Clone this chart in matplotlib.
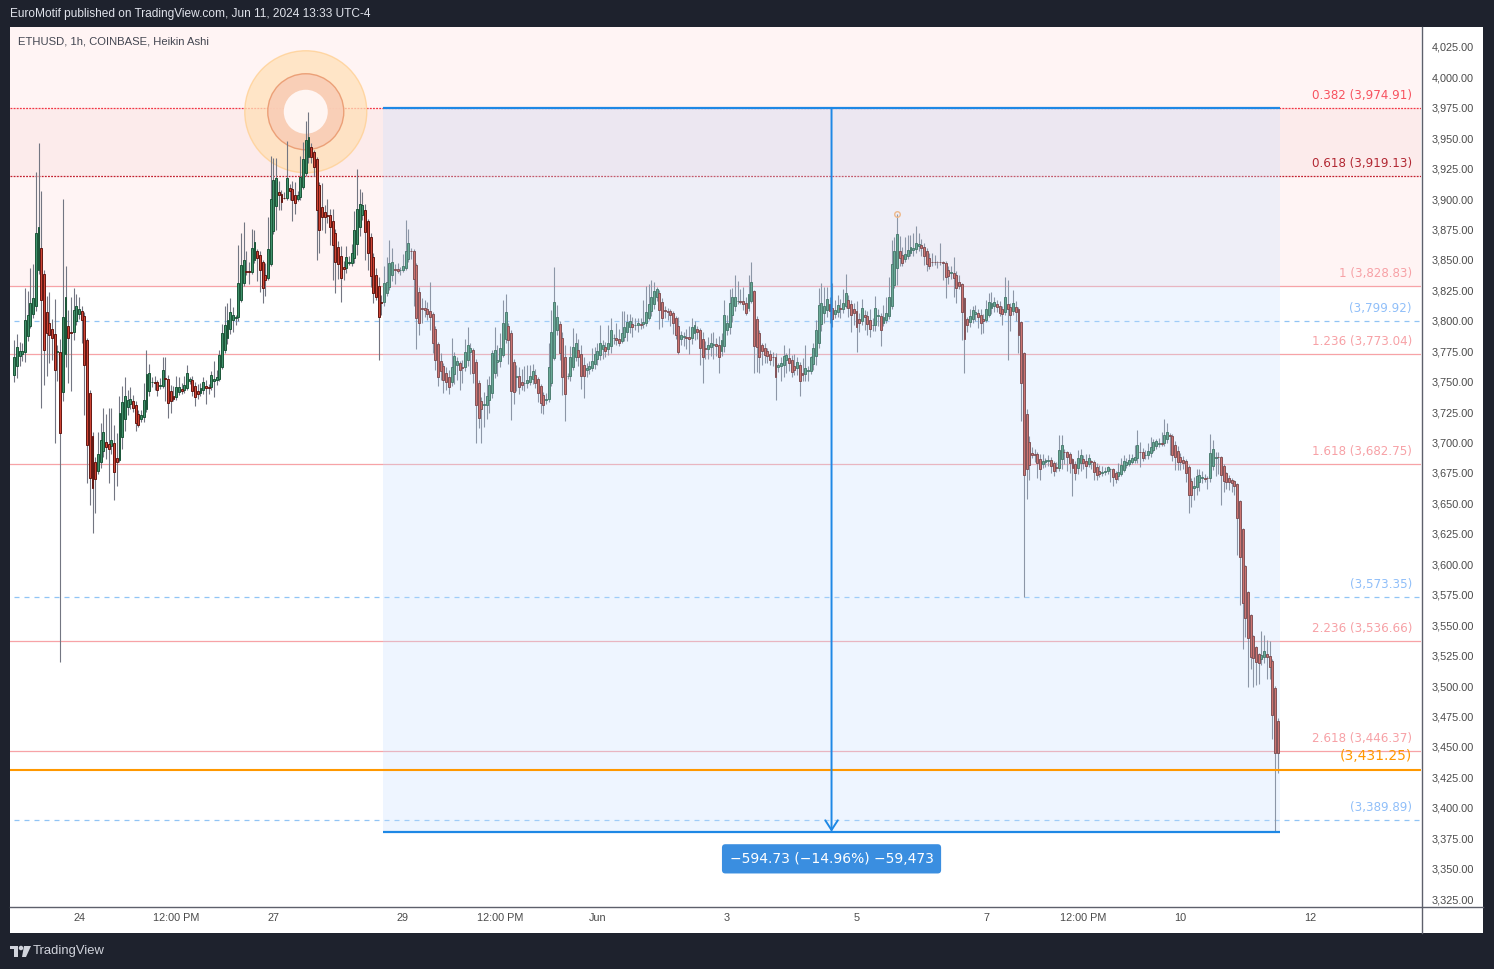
import numpy as np
import pandas as pd
import matplotlib
matplotlib.use("Agg")
import matplotlib.pyplot as plt
from matplotlib.patches import Rectangle, Ellipse, Polygon
from matplotlib.lines import Line2D

plt.rcParams['font.family'] = ['Liberation Sans', 'DejaVu Sans']

# ETHUSD 1h Heikin Ashi
bar_start = "2024-05-23 00:00"
first_open = 3755.5
ha_close = [
    3770.5, 3778.8, 3775.0, 3775.5, 3800.7, 3804.8, 3814.4, 3818.5, 3871.9, 3877.4,
    3817.1, 3776.0, 3789.7, 3788.0, 3786.0, 3759.6, 3775.0, 3708.0, 3803.4, 3819.9,
    3785.6, 3790.0, 3808.9, 3812.0, 3810.0, 3800.7, 3763.7, 3697.9, 3670.6, 3662.4,
    3669.8, 3690.6, 3702.0, 3708.4, 3696.6, 3695.0, 3702.0, 3675.5, 3684.3, 3724.0,
    3733.6, 3738.5, 3735.0, 3736.0, 3728.1, 3716.3, 3714.4, 3722.6, 3734.9, 3756.3,
    3756.9, 3750.0, 3749.0, 3743.2, 3747.0, 3759.6, 3752.0, 3732.8, 3734.4, 3736.0,
    3745.4, 3746.0, 3742.0, 3747.0, 3756.9, 3752.0, 3742.0, 3737.7, 3740.0, 3745.0,
    3750.0, 3745.0, 3745.0, 3755.5, 3752.0, 3754.0, 3771.9, 3789.7, 3796.6, 3800.7,
    3807.5, 3805.0, 3803.0, 3831.3, 3845.9, 3850.0, 3840.4, 3840.0, 3859.6, 3864.5,
    3851.4, 3841.8, 3826.7, 3833.5, 3858.7, 3899.8, 3915.7, 3917.1, 3903.0, 3898.0,
    3901.0, 3917.1, 3907.0, 3899.3, 3897.0, 3903.0, 3918.5, 3932.7, 3948.6, 3950.8,
    3934.3, 3926.7, 3891.1, 3874.6, 3885.6, 3885.0, 3886.0, 3877.4, 3862.3, 3848.6,
    3846.7, 3834.9, 3842.3, 3852.2, 3848.0, 3855.5, 3874.6, 3891.9, 3895.7, 3895.0,
    3873.3, 3855.5, 3836.8, 3822.6, 3820.0, 3802.9, 3815.0, 3830.8, 3832.2, 3847.2,
    3848.6, 3842.0, 3841.0, 3842.0, 3845.0, 3857.6, 3863.7, 3857.0, 3834.1, 3802.1,
    3798.0, 3810.0, 3809.0, 3806.0, 3803.4, 3781.5, 3767.8, 3754.1, 3759.0, 3751.4,
    3750.0, 3745.9, 3762.3, 3771.1, 3767.0, 3759.6, 3761.0, 3774.1, 3780.1, 3778.0,
    3756.9, 3730.8, 3719.9, 3727.3, 3731.4, 3738.2, 3747.3, 3773.3, 3776.0, 3768.0,
    3777.4, 3798.0, 3807.0, 3784.2, 3742.6, 3741.8, 3754.7, 3745.9, 3747.0, 3749.0,
    3751.4, 3754.7, 3758.8, 3748.6, 3740.4, 3732.2, 3730.6, 3736.0, 3761.8, 3791.1,
    3815.2, 3802.9, 3773.8, 3754.1, 3739.9, 3755.0, 3770.0, 3778.8, 3782.0, 3770.0,
    3754.7, 3755.0, 3761.0, 3763.0, 3767.3, 3772.5, 3775.5, 3781.5, 3780.0, 3775.5,
    3781.5, 3792.5, 3786.0, 3784.0, 3782.0, 3789.7, 3794.7, 3799.3, 3799.9, 3795.0,
    3797.0, 3798.0, 3797.0, 3799.0, 3807.0, 3813.5, 3819.9, 3824.8, 3826.0, 3808.9,
    3802.0, 3808.0, 3807.0, 3804.8, 3798.5, 3788.4, 3774.7, 3788.4, 3787.5, 3786.0,
    3785.0, 3794.7, 3796.8, 3791.0, 3777.4, 3770.0, 3776.6, 3780.0, 3782.0, 3781.0,
    3779.0, 3770.0, 3784.2, 3804.8, 3798.0, 3814.4, 3819.3, 3820.0, 3816.6, 3815.8,
    3813.8, 3806.7, 3822.0, 3832.2, 3779.3, 3778.8, 3770.0, 3775.5, 3772.0, 3771.0,
    3767.8, 3770.0, 3754.1, 3763.7, 3765.0, 3771.1, 3771.9, 3765.6, 3758.2, 3759.6,
    3766.5, 3750.9, 3755.5, 3761.0, 3759.6, 3770.0, 3777.4, 3792.5, 3813.0, 3815.0,
    3812.0, 3818.0, 3808.0, 3801.2, 3808.9, 3813.0, 3810.0, 3814.4, 3822.6, 3810.3,
    3804.8, 3806.7, 3794.7, 3798.0, 3810.3, 3803.4, 3797.4, 3793.0, 3797.0, 3810.3,
    3805.0, 3792.5, 3803.4, 3806.7, 3819.9, 3846.7, 3857.7, 3871.4, 3851.4, 3847.8,
    3854.9, 3858.2, 3860.9, 3860.0, 3864.2, 3863.0, 3859.6, 3853.3, 3846.7, 3845.0,
    3848.0, 3848.2, 3848.2, 3848.2, 3847.5, 3835.8, 3836.5, 3840.0, 3835.0, 3826.7,
    3829.0, 3807.5, 3784.8, 3796.6, 3804.0, 3808.9, 3807.0, 3803.4, 3798.5, 3800.0,
    3809.5, 3815.7, 3814.4, 3815.5, 3811.0, 3806.7, 3805.6, 3819.3, 3809.5, 3804.8,
    3814.4, 3807.5, 3788.4, 3748.6, 3673.3, 3678.0, 3681.5, 3690.0, 3690.0, 3683.0,
    3678.0, 3685.0, 3686.0, 3686.0, 3680.7, 3676.9, 3679.0, 3693.9, 3698.0, 3692.0,
    3688.4, 3683.0, 3678.8, 3675.2, 3687.0, 3689.8, 3683.0, 3680.7, 3687.0, 3684.0,
    3676.0, 3673.3, 3674.0, 3676.0, 3677.0, 3679.6, 3678.0, 3672.0, 3669.8, 3676.0,
    3681.5, 3685.0, 3684.0, 3685.6, 3687.0, 3688.4, 3698.0, 3692.0, 3687.0, 3690.0,
    3693.3, 3696.6, 3700.7, 3701.0, 3700.0, 3699.0, 3706.2, 3709.0, 3705.0, 3689.8,
    3688.4, 3683.7, 3683.7, 3683.0, 3674.7, 3656.9, 3656.9, 3664.0, 3672.5, 3673.3,
    3672.0, 3670.0, 3670.5, 3691.1, 3694.4, 3688.4, 3687.8, 3673.3, 3668.6, 3668.0,
    3667.8, 3666.5, 3664.3, 3637.7, 3606.2, 3568.4, 3555.5, 3539.1, 3524.0, 3523.0,
    3519.9, 3519.0, 3525.4, 3529.0, 3523.5, 3515.8, 3476.1, 3444.6, 3444.6,
]
# wick length above / below the body
wick_up = [
    14, 10, 8, 6, 26, 20, 29, 28, 50, 69, 47, 3, 13, 25, 8, 28, 5, 10, 97, 25,
    13, 29, 18, 10, 10, 4, 3, 2, 2, 3, 4, 18, 14, 20, 23, 30, 26, 15, 20, 14,
    13, 15, 8, 10, 5, 3, 3, 4, 14, 20, 8, 4, 5, 2, 6, 11, 17, 3, 5, 8,
    9, 8, 5, 8, 7, 2, 3, 3, 6, 4, 4, 5, 2, 3, 15, 6, 4, 8, 16, 14,
    11, 6, 2, 31, 26, 31, 17, 8, 16, 10, 2, 3, 2, 10, 27, 36, 18, 17, 9, 3,
    5, 31, 3, 7, 10, 4, 17, 14, 16, 21, 3, 2, 2, 2, 20, 6, 13, 5, 10, 3,
    5, 8, 5, 9, 5, 8, 16, 33, 13, 11, 5, 2, 3, 3, 6, 7, 5, 14, 20, 19,
    11, 4, 5, 2, 10, 25, 12, 3, 2, 2, 4, 8, 7, 6, 24, 2, 2, 2, 6, 2,
    5, 6, 24, 3, 3, 2, 5, 11, 15, 4, 2, 2, 3, 3, 10, 14, 7, 3, 19, 12,
    13, 19, 15, 2, 2, 2, 9, 8, 10, 14, 12, 9, 6, 5, 2, 2, 2, 5, 20, 18,
    29, 10, 2, 5, 10, 2, 9, 15, 8, 9, 7, 6, 4, 4, 10, 6, 6, 15, 4, 4,
    15, 10, 3, 12, 8, 18, 13, 6, 6, 6, 5, 4, 5, 18, 22, 17, 14, 7, 2, 3,
    3, 3, 2, 2, 2, 2, 8, 3, 3, 6, 9, 8, 3, 2, 2, 6, 6, 7, 8, 10,
    5, 8, 6, 12, 7, 12, 8, 18, 16, 10, 12, 5, 16, 16, 1, 2, 2, 2, 4, 3,
    3, 4, 3, 2, 5, 9, 2, 8, 4, 10, 4, 2, 12, 19, 3, 1, 4, 8, 14, 16,
    16, 10, 6, 20, 8, 8, 8, 12, 16, 4, 3, 5, 8, 5, 8, 4, 4, 9, 5, 10,
    5, 2, 10, 13, 16, 20, 11, 16, 12, 6, 14, 12, 10, 12, 14, 9, 5, 3, 3, 4,
    7, 6, 1, 16, 1, 1, 3, 5, 13, 4, 6, 1, 1, 1, 6, 3, 6, 4, 5, 4,
    8, 7, 9, 4, 3, 4, 3, 17, 20, 3, 11, 5, 2, 1, 1, 4, 5, 5, 4, 2,
    4, 6, 1, 4, 3, 2, 4, 12, 8, 2, 1, 2, 1, 2, 7, 5, 3, 6, 4, 1,
    1, 3, 5, 5, 3, 1, 1, 1, 2, 7, 6, 5, 3, 5, 4, 10, 12, 8, 3, 4,
    6, 8, 2, 2, 4, 9, 13, 7, 2, 2, 4, 4, 3, 3, 2, 2, 3, 8, 6, 5,
    5, 3, 2, 16, 8, 4, 4, 1, 2, 1, 2, 1, 1, 1, 1, 1, 1, 1, 1, 1,
    1, 1, 20, 13, 11, 12, 2, 2, 2,
]
wick_dn = [
    6, 10, 8, 6, 8, 4, 2, 3, 4, 3, 89, 29, 35, 23, 18, 60, 24, 188, 7, 10,
    37, 48, 6, 3, 4, 19, 41, 31, 22, 37, 28, 3, 5, 5, 10, 28, 6, 23, 20, 2,
    10, 10, 6, 4, 3, 7, 2, 2, 4, 3, 4, 4, 6, 5, 2, 2, 18, 13, 10, 2,
    2, 2, 2, 2, 2, 3, 4, 8, 4, 3, 3, 13, 5, 2, 13, 4, 2, 2, 2, 5,
    4, 10, 6, 3, 2, 3, 3, 10, 2, 2, 19, 18, 12, 13, 2, 2, 2, 20, 12, 7,
    1, 2, 8, 17, 9, 2, 2, 2, 2, 5, 5, 8, 41, 19, 11, 13, 6, 15, 29, 26,
    12, 19, 9, 4, 2, 3, 4, 9, 8, 4, 23, 14, 9, 8, 3, 35, 10, 3, 3, 2,
    5, 12, 2, 4, 2, 2, 2, 6, 22, 25, 10, 12, 6, 5, 11, 8, 8, 8, 8, 11,
    7, 6, 3, 8, 12, 16, 12, 3, 5, 18, 8, 31, 8, 28, 18, 12, 10, 4, 4, 12,
    5, 2, 3, 20, 24, 10, 12, 6, 4, 6, 4, 3, 4, 4, 7, 8, 7, 3, 2, 2,
    2, 4, 6, 15, 22, 3, 4, 3, 4, 7, 11, 18, 6, 4, 3, 4, 5, 4, 8, 5,
    5, 6, 5, 4, 3, 2, 3, 7, 5, 8, 4, 6, 4, 3, 2, 2, 4, 4, 3, 16,
    7, 6, 6, 9, 9, 3, 2, 5, 7, 9, 12, 5, 6, 6, 14, 21, 8, 8, 7, 12,
    8, 13, 4, 5, 4, 6, 6, 4, 2, 2, 5, 2, 3, 2, 22, 21, 13, 12, 7, 6,
    4, 7, 19, 4, 12, 10, 10, 7, 4, 4, 6, 13, 5, 6, 8, 3, 5, 7, 4, 6,
    8, 6, 10, 6, 4, 4, 8, 4, 2, 7, 14, 10, 20, 7, 3, 11, 9, 6, 5, 5,
    8, 13, 3, 3, 2, 2, 2, 14, 6, 3, 3, 2, 2, 5, 3, 4, 6, 7, 6, 2,
    3, 2, 5, 2, 14, 17, 6, 5, 15, 12, 3, 23, 28, 6, 4, 3, 5, 9, 9, 10,
    2, 2, 5, 5, 4, 3, 9, 3, 42, 13, 3, 8, 15, 31, 100, 24, 12, 3, 6, 12,
    9, 3, 4, 4, 6, 4, 3, 3, 8, 10, 12, 8, 23, 6, 5, 6, 5, 10, 3, 6,
    7, 4, 2, 3, 2, 2, 10, 8, 3, 3, 2, 2, 2, 2, 2, 2, 4, 12, 2, 3,
    3, 3, 2, 3, 3, 2, 2, 3, 15, 5, 11, 6, 6, 5, 7, 15, 10, 10, 6, 8,
    4, 2, 9, 3, 3, 15, 14, 25, 9, 6, 7, 7, 7, 30, 40, 38, 15, 40, 10, 24,
    19, 17, 5, 5, 18, 10, 20, 64, 16,
]

fib_ratios = ["0.382", "0.618", "1", "1.236", "1.618", "2.236", "2.618"]
fib_prices = [3974.91, 3919.13, 3828.83, 3773.04, 3682.75, 3536.66, 3446.37]
blue_levels = [3799.92, 3573.35, 3389.89]
orange_level = 3431.25
measure_top = 3974.91
measure_bottom = 3380.18
measure_bars = (136.6, 468.9)

price_ticks = list(range(3325, 4026, 25))
time_tick_stamps = ["2024-05-24", "2024-05-25 12:00", "2024-05-27", "2024-05-29",
                    "2024-05-30 12:00", "2024-06-01", "2024-06-03", "2024-06-05",
                    "2024-06-07", "2024-06-08 12:00", "2024-06-10", "2024-06-12"]
time_tick_labels = ["24", "12:00 PM", "27", "29", "12:00 PM", "Jun", "3", "5",
                    "7", "12:00 PM", "10", "12"]

# ---- heikin ashi bodies ----
closes = np.array(ha_close)
n = len(closes)
opens = np.empty(n)
opens[0] = first_open
for i in range(1, n):
    opens[i] = (opens[i - 1] + closes[i - 1]) / 2
highs = np.maximum(opens, closes) + np.array(wick_up)
lows = np.minimum(opens, closes) - np.array(wick_dn)
x = np.arange(n)

W, H = 1494, 969
def fx(px):
    return px / W
def fy(py):
    return 1 - py / H

fig = plt.figure(figsize=(W / 100, H / 100), dpi=100, facecolor='#1e222d')
fig.patches.append(Rectangle((fx(10), fy(933)), fx(1483) - fx(10), fy(27) - fy(933),
                             transform=fig.transFigure, facecolor='white',
                             edgecolor='none', zorder=-5))

ax = fig.add_axes([fx(10), fy(906), fx(1421) - fx(10), fy(27) - fy(906)])
ax.set_facecolor('white')
ylo, yhi = 3319.25, 4041.43
xlo, xhi = -1.56, 521.1
ax.set_ylim(ylo, yhi)
ax.set_xlim(xlo, xhi)
for s in ax.spines.values():
    s.set_visible(False)

# fib zones
ax.axhspan(fib_prices[0], yhi, facecolor='#fff4f4', zorder=0)
ax.axhspan(fib_prices[1], fib_prices[0], facecolor='#fcebeb', zorder=0)
ax.axhspan(fib_prices[2], fib_prices[1], facecolor='#fff4f4', zorder=0)

fib_line_colors = ['#f23645', '#c2202e'] + ['#f7a3a7'] * 5
fib_text_colors = ['#f7525f', '#b22833'] + ['#f7a1a6'] * 5
for i, (r, p) in enumerate(zip(fib_ratios, fib_prices)):
    ls = (0, (1.5, 1)) if i < 2 else '-'
    ax.axhline(p, color=fib_line_colors[i], lw=0.9, ls=ls, zorder=1)
    ax.annotate(f"{r} ({p:,.2f})", xy=(1, p), xycoords=('axes fraction', 'data'),
                xytext=(-9, 9), textcoords='offset pixels', ha='right', va='baseline',
                color=fib_text_colors[i], fontsize=8.6, family='DejaVu Sans', zorder=8)

for p in blue_levels:
    ax.hlines(p, 0, xhi, color='#90c4f5', lw=0.9, linestyles=(0, (4, 4)), zorder=1)
    ax.annotate(f"({p:,.2f})", xy=(1, p), xycoords=('axes fraction', 'data'),
                xytext=(-9, 9), textcoords='offset pixels', ha='right', va='baseline',
                color='#90bff9', fontsize=8.6, family='DejaVu Sans', zorder=8)

ax.axhline(orange_level, color='#ff9800', lw=1.5, zorder=6)
ax.annotate(f"({orange_level:,.2f})", xy=(1, orange_level),
            xycoords=('axes fraction', 'data'), xytext=(-9, 10),
            textcoords='offset pixels', ha='right', va='baseline',
            color='#ff9800', fontsize=10, family='DejaVu Sans', zorder=8)

# highlight circle around the top
px_bar = (1421 - 10) / (xhi - xlo)
px_price = (906 - 27) / (yhi - ylo)
pk = int(np.argmax(highs))
for r, fc, ec, a in [(61, '#ffe0b8', '#ffcf90', 0.75), (38, '#f9cdb6', '#ea9a70', 0.9),
                     (22, '#fff5f2', 'none', 1.0)]:
    ax.add_patch(Ellipse((pk - 1, highs[pk]), 2 * r / px_bar, 2 * r / px_price,
                         facecolor=fc, edgecolor=ec, lw=1, alpha=a, zorder=2))

# candles
ax.vlines(x, lows, highs, color='#737682', lw=0.8, zorder=3)
up = closes >= opens
ax.bar(x[up], (closes - opens)[up], bottom=opens[up], width=0.72,
       color='#41916b', edgecolor='#1b5538', lw=0.7, zorder=4)
ax.bar(x[~up], (closes - opens)[~up], bottom=opens[~up], width=0.72,
       color='#cf4535', edgecolor='#641611', lw=0.7, zorder=4)

jp = 327
ax.plot(jp, highs[jp], marker='o', mfc='none', mec='#ffa95a', ms=4, mew=1, zorder=5)

# date / price range
m0, m1 = measure_bars
mid = (m0 + m1) / 2
ax.add_patch(Rectangle((m0, measure_bottom), m1 - m0, measure_top - measure_bottom,
                       facecolor='#c8e1ff', alpha=0.3, edgecolor='none', zorder=5))
ax.hlines([measure_top, measure_bottom], m0, m1, color='#1e88e5', lw=1.6, zorder=6)
ax.annotate('', xy=(mid, measure_bottom), xytext=(mid, measure_top),
            arrowprops=dict(arrowstyle='->,head_length=0.7,head_width=0.45',
                            color='#1e88e5', lw=1.4, shrinkA=0, shrinkB=0), zorder=6)
diff = measure_bottom - measure_top
pct = diff / measure_top * 100
ticks = int(round(diff * 100))
label = f"\u2212{abs(diff):.2f} (\u2212{abs(pct):.2f}%) \u2212{abs(ticks):,}"
ax.annotate(label, xy=(mid, measure_bottom), xytext=(0, -27), textcoords='offset pixels',
            ha='center', va='center', color='white', fontsize=10, family='DejaVu Sans',
            bbox=dict(boxstyle='round,pad=0.55,rounding_size=0.25', facecolor='#3a8ee0',
                      edgecolor='none'), zorder=9, annotation_clip=False)

# axes
start = pd.Timestamp(bar_start)
tick_pos = [(pd.Timestamp(s) - start) / pd.Timedelta(hours=1) for s in time_tick_stamps]
ax.set_xticks(tick_pos)
ax.set_xticklabels(time_tick_labels)
ax.yaxis.tick_right()
ax.set_yticks(price_ticks)
ax.set_yticklabels([f"{v:,.2f}" for v in price_ticks])
ax.tick_params(axis='y', length=0, pad=7.5, labelsize=7.8, labelcolor='#4a4a4a')
ax.tick_params(axis='x', length=0, pad=5, labelsize=7.8, labelcolor='#4a4a4a')

fig.add_artist(Line2D([fx(1421.5)] * 2, [fy(27), fy(933)], color='#5d606b', lw=1,
                      transform=fig.transFigure))
fig.add_artist(Line2D([fx(10), fx(1483)], [fy(906.5)] * 2, color='#5d606b', lw=1,
                      transform=fig.transFigure))

# header / footer
fig.text(fx(10), fy(14), "EuroMotif published on TradingView.com, Jun 11, 2024 13:33 UTC-4",
         color='#e0e3eb', fontsize=8.6, va='center', ha='left')
fig.text(fx(18), fy(41), "ETHUSD, 1h, COINBASE, Heikin Ashi",
         color='#434651', fontsize=8.1, va='center', ha='left')
fig.patches.append(Rectangle((fx(10), fy(949)), fx(18) - fx(10), fy(946) - fy(949),
                             transform=fig.transFigure, facecolor='#d1d4dc', edgecolor='none'))
fig.patches.append(Rectangle((fx(14), fy(957)), fx(18) - fx(14), fy(946) - fy(957),
                             transform=fig.transFigure, facecolor='#d1d4dc', edgecolor='none'))
fig.patches.append(Ellipse((fx(21), fy(948)), 4.5 / W, 4.5 / H, transform=fig.transFigure,
                           facecolor='#d1d4dc', edgecolor='none'))
fig.patches.append(Polygon([(fx(24), fy(946)), (fx(31), fy(946)), (fx(26), fy(957)),
                            (fx(22), fy(957))], closed=True, transform=fig.transFigure,
                           facecolor='#d1d4dc', edgecolor='none'))
fig.text(fx(33), fy(951), "TradingView", color='#d1d4dc', fontsize=9.4, va='center', ha='left')

fig.savefig('out.png', dpi=100, facecolor=fig.get_facecolor())
